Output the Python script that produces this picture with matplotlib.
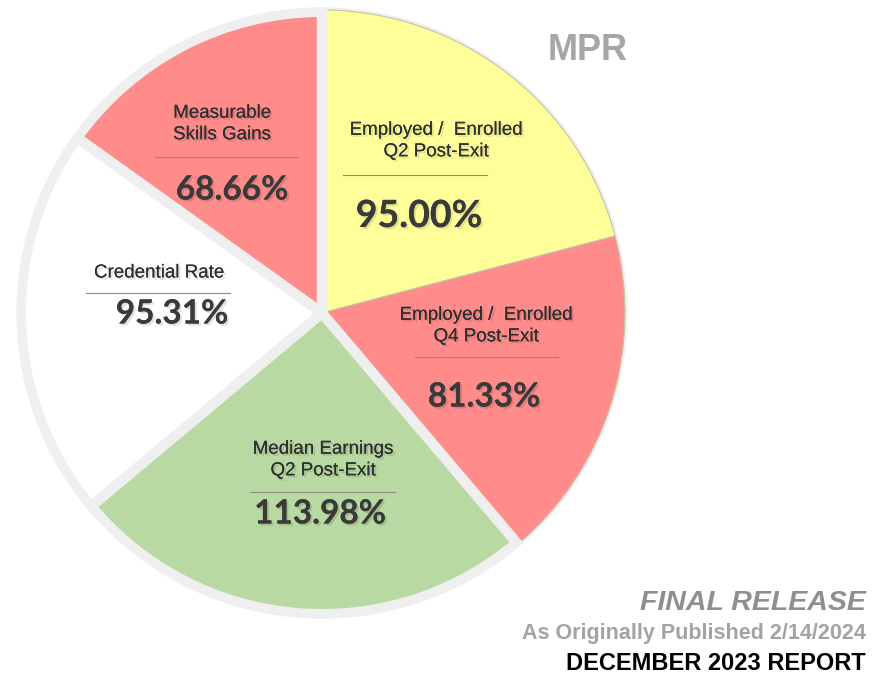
import matplotlib
matplotlib.use("Agg")
import numpy as np
import matplotlib.pyplot as plt
import matplotlib.patheffects as pe
from matplotlib.patches import Circle

# slices, clockwise from 12 o'clock
names = ["Employed /  Enrolled\nQ2 Post-Exit", "Employed /  Enrolled\nQ4 Post-Exit",
         "Median Earnings\nQ2 Post-Exit", "Credential Rate", "Measurable\nSkills Gains"]
values = [95.00, 81.33, 113.98, 95.31, 68.66]
colors = ["#ffff99", "#ff8b8b", "#b9d9a2", "#ffffff", "#ff8b8b"]
raised = [True, True, False, False, False]

W, H = 872, 677
def Y(y):
    return H - y

# label layout in pixels: (label x, label y, rule y, rule x0, rule x1, value x, value y, value size)
layout = [
    (436, 141, 175, 343, 487, 419, 216, 27),
    (486, 326, 357, 415, 558, 484, 397, 24),
    (323, 460, 492, 250, 395, 320, 514, 24),
    (159, 273, 293, 86, 230, 172, 314, 24),
    (222, 124, 157, 155, 298, 232, 190, 24),
]

cx, cy = 322, Y(313)
ring_r = 305
gap_gray = "#efefef"

fig = plt.figure(figsize=(W / 100, H / 100), dpi=100)
ax = fig.add_axes([0, 0, 1, 1])

ax.add_patch(Circle((cx, cy), ring_r, color=gap_gray, zorder=0))

wedges, _ = ax.pie(values, colors=colors, radius=296, center=(cx, cy),
                   startangle=90, counterclock=False,
                   wedgeprops=dict(edgecolor="none", linewidth=0))
for w, up in zip(wedges, raised):
    w.set_zorder(1)
    if up:
        w.set_radius(303)
        w.set_edgecolor("#c4c4a8")
        w.set_linewidth(0.8)

# wide gray gaps between slices, except between the two raised ones
for i in range(len(wedges)):
    if raised[i] and raised[i - 1]:
        continue
    a = np.deg2rad(wedges[i].theta2)
    ax.plot([cx, cx + ring_r * np.cos(a)], [cy, cy + ring_r * np.sin(a)],
            color=gap_gray, lw=7.5, solid_capstyle="butt", zorder=3)

shadow = [pe.withSimplePatchShadow(offset=(1.5, -1.5), shadow_rgbFace="#000000", alpha=0.12), pe.Normal()]

for name, v, (lx, ly, ry, rx0, rx1, vx, vy, vs) in zip(names, values, layout):
    ax.text(lx, Y(ly), name, ha="center", va="center", fontsize=13.5,
            family="Liberation Sans", color="#2e2e2e", linespacing=1.35,
            path_effects=shadow, zorder=5)
    ax.plot([rx0, rx1], [Y(ry), Y(ry)], color="#8a8a8a", lw=0.8, zorder=5)
    ax.text(vx, Y(vy), f"{v:.2f}%", ha="center", va="center", fontsize=vs,
            family="Lato", weight="bold", color="#3a3a3a",
            path_effects=shadow, zorder=5)

ax.text(588, Y(50), "MPR", ha="center", va="center", fontsize=26,
        family="Liberation Sans", weight="bold", color="#a6a6a6")
ax.text(866, Y(603), "FINAL RELEASE", ha="right", va="center", fontsize=20.5,
        family="Liberation Sans", weight="bold", style="italic", color="#8f8f8f")
ax.text(866, Y(634), "As Originally Published 2/14/2024", ha="right", va="center",
        fontsize=15.5, family="Liberation Sans", weight="bold", color="#a3a3a3")
ax.text(866, Y(663), "DECEMBER 2023 REPORT", ha="right", va="center", fontsize=17,
        family="Liberation Sans", weight="bold", color="#000000")

ax.set_xlim(0, W)
ax.set_ylim(0, H)
ax.set_aspect("auto")
ax.axis("off")

fig.savefig("out.png", dpi=100, facecolor="white")
